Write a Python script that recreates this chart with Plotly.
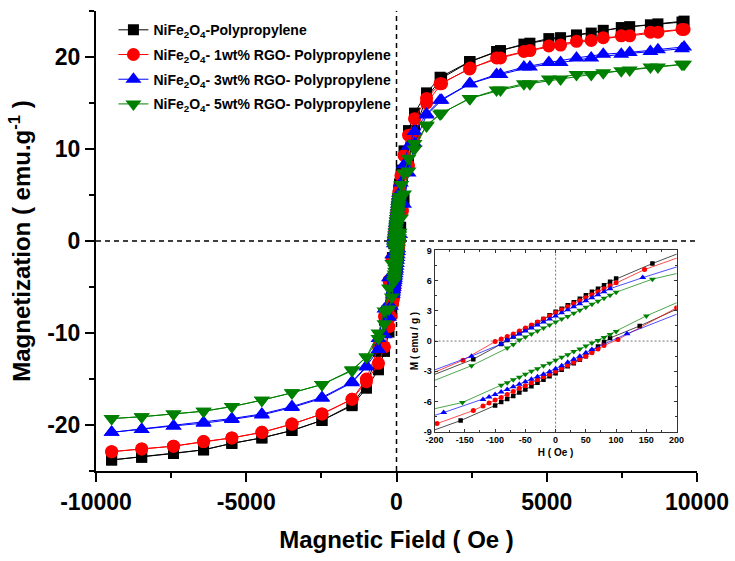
import plotly.graph_objects as go

# ---------------- data ----------------
names = [
    "NiFe<sub>2</sub>O<sub>4</sub>-Polypropylene",
    "NiFe<sub>2</sub>O<sub>4</sub>- 1wt% RGO- Polypropylene",
    "NiFe<sub>2</sub>O<sub>4</sub>- 3wt% RGO- Polypropylene",
    "NiFe<sub>2</sub>O<sub>4</sub>- 5wt% RGO- Polypropylene",
]
colors = ["#000000", "#ff0000", "#0000ff", "#008000"]
symbols = ["square", "circle", "triangle-up", "triangle-down"]

# black : NiFe2O4-Polypropylene
black_H_down = [9570, 8700, 7760, 6880, 5990, 5070, 4240, 3330, 2430, 1450, 1000, 600, 400, 250, 160,
                100, 90, 80, 70, 60, 50, 40, 30, 20, 10, 0, -10, -20, -30, -40, -50, -60, -70, -80, -90,
                -136, -250, -400, -600, -1000, -1480, -2480, -3480, -4480, -5480, -6420, -7420, -8480, -9480]
black_M_down = [23.9, 23.6, 23.3, 22.9, 22.4, 22.0, 21.4, 20.6, 19.5, 17.8, 16.1, 13.9, 12.0, 9.8, 7.7,
                6.2, 5.9, 5.55, 5.2, 4.9, 4.55, 4.2, 3.85, 3.55, 3.2, 2.9, 2.55, 2.2, 1.85, 1.5, 1.15, 0.8, 0.45, 0.1, -0.3,
                -1.8, -4.5, -8.6, -12.0, -15.6, -17.8, -19.5, -20.6, -21.4, -22.0, -22.7, -23.1, -23.5, -23.8]
black_H_up = [-9480, -8480, -7420, -6420, -5480, -4480, -3480, -2480, -1480, -1000, -600, -400, -250, -157,
              -100, -90, -80, -70, -60, -50, -40, -30, -20, -10, 0, 10, 20, 30, 40, 50, 60, 70, 80, 90,
              139, 250, 400, 600, 1000, 1500, 2450, 3460, 4440, 5460, 6480, 7480, 8450, 9500]
black_M_up = [-23.8, -23.5, -23.1, -22.7, -22.0, -21.4, -20.6, -19.5, -17.9, -16.0, -14.0, -12.0, -9.9, -7.9,
              -6.4, -6.05, -5.75, -5.45, -5.1, -4.8, -4.5, -4.15, -3.85, -3.5, -3.2, -2.85, -2.5, -2.2, -1.85, -1.5, -1.0, -0.55, -0.1, 0.3,
              1.5, 4.5, 8.6, 12.0, 15.6, 17.7, 19.5, 20.7, 21.5, 22.1, 22.6, 23.2, 23.5, 23.8]

# red : 1 wt% RGO
red_H_down = [9570, 8700, 7760, 6880, 5990, 5070, 4240, 3330, 2430, 1450, 1000, 600, 400, 250, 147,
              100, 90, 80, 70, 60, 50, 40, 30, 20, 10, 0, -10, -20, -30, -40, -50, -60, -70, -80, -90, -100,
              -153, -250, -400, -600, -1000, -1480, -2480, -3480, -4480, -5480, -6420, -7420, -8480, -9480]
red_M_down = [23.0, 22.7, 22.3, 22.1, 21.7, 21.2, 20.6, 19.9, 18.7, 17.1, 15.5, 13.3, 11.5, 9.3, 7.1,
              5.8, 5.5, 5.2, 4.9, 4.6, 4.3, 4.0, 3.7, 3.4, 3.1, 2.8, 2.5, 2.2, 1.9, 1.6, 1.3, 1.0, 0.7, 0.45, 0.2, -0.05,
              -1.9, -4.3, -8.2, -11.5, -15.0, -17.2, -18.8, -19.9, -20.8, -21.4, -21.8, -22.3, -22.6, -22.9]
red_H_up = [-9480, -8480, -7420, -6420, -5480, -4480, -3480, -2480, -1480, -1000, -600, -400, -250, -196, -136,
            -120, -110, -100, -90, -80, -70, -60, -50, -40, -30, -20, -10, 0, 10, 20, 30, 40, 50, 60, 70, 80,
            103, 200, 400, 600, 1000, 1500, 2450, 3460, 4440, 5460, 6480, 7480, 8450, 9500]
red_M_up = [-22.9, -22.6, -22.3, -21.8, -21.4, -20.8, -19.9, -18.8, -17.2, -15.3, -13.3, -11.5, -9.3, -8.2, -6.9,
            -6.45, -6.15, -5.85, -5.6, -5.3, -5.0, -4.7, -4.45, -4.15, -3.85, -3.55, -3.3, -3.0, -2.7, -2.4, -2.1, -1.8, -1.5, -1.15, -0.8, -0.45,
            0.16, 3.3, 8.2, 11.5, 15.0, 17.1, 18.8, 19.9, 20.7, 21.3, 21.8, 22.3, 22.7, 23.0]

# blue : 3 wt% RGO
blue_H_down = [9570, 8700, 7760, 6880, 5990, 5070, 4240, 3330, 2430, 1450, 1000, 600, 400, 250, 144,
               90, 80, 70, 60, 50, 40, 30, 20, 10, 0, -10, -20, -30, -40, -50, -60, -70, -80, -90,
               -139, -250, -400, -600, -1000, -1480, -2480, -3480, -4480, -5480, -6420, -7420, -8480, -9480]
blue_M_down = [21.1, 20.8, 20.5, 20.3, 19.9, 19.4, 18.9, 18.1, 17.1, 15.3, 13.8, 11.9, 10.3, 8.3, 6.3,
               5.2, 4.9, 4.6, 4.3, 4.0, 3.7, 3.4, 3.1, 2.8, 2.5, 2.2, 1.9, 1.6, 1.3, 1.0, 0.7, 0.4, 0.1, -0.3,
               -1.5, -4.0, -7.4, -10.6, -13.7, -15.4, -17.1, -18.1, -18.9, -19.4, -19.8, -20.1, -20.5, -20.8]
blue_H_up = [-9480, -8480, -7420, -6420, -5480, -4480, -3480, -2480, -1480, -1000, -600, -400, -250, -185,
             -120, -110, -100, -90, -80, -70, -60, -50, -40, -30, -20, -10, 0, 10, 20, 30, 40, 50, 60,
             118, 250, 400, 600, 1000, 1500, 2450, 3460, 4440, 5460, 6480, 7480, 8450, 9500]
blue_M_up = [-20.8, -20.5, -20.1, -19.7, -19.3, -18.8, -18.0, -17.0, -15.3, -13.6, -11.8, -10.2, -8.3, -7.1,
             -5.8, -5.55, -5.3, -5.05, -4.8, -4.55, -4.3, -4.05, -3.8, -3.55, -3.3, -3.05, -2.75, -2.45, -2.1, -1.8, -1.5, -1.15, -0.85,
             0.72, 4.0, 7.4, 10.6, 13.7, 15.3, 17.1, 18.1, 18.9, 19.4, 19.9, 20.3, 20.6, 20.9]

# green : 5 wt% RGO
green_H_down = [9570, 8700, 7760, 6880, 5990, 5070, 4240, 3330, 2430, 1450, 1000, 600, 400, 250, 160,
                100, 90, 80, 70, 60, 50, 40, 30, 20, 10, 0, -10, -20, -30, -40, -50, -60, -70, -80,
                -139, -250, -400, -600, -1000, -1480, -2480, -3480, -4480, -5480, -6420, -7420, -8480, -9480]
green_M_down = [19.2, 18.9, 18.6, 18.3, 18.1, 17.6, 17.1, 16.4, 15.5, 13.8, 12.5, 10.6, 9.0, 7.4, 6.15,
                4.85, 4.55, 4.25, 3.95, 3.65, 3.35, 3.05, 2.75, 2.45, 2.2, 1.9, 1.6, 1.3, 1.0, 0.7, 0.4, 0.1, -0.35, -0.7,
                -2.45, -5.1, -7.6, -10.0, -12.6, -14.0, -15.6, -16.5, -17.3, -18.0, -18.5, -18.8, -19.1, -19.3]
green_H_up = [-9480, -8480, -7420, -6420, -5480, -4480, -3480, -2480, -1480, -1000, -600, -400, -250, -154,
              -90, -80, -70, -60, -50, -40, -30, -20, -10, 0, 10, 20, 30, 40, 50, 60, 70, 80, 90, 100,
              150, 250, 400, 600, 1000, 1500, 2450, 3460, 4440, 5460, 6480, 7480, 8450, 9500]
green_M_up = [-19.3, -19.1, -18.8, -18.5, -18.0, -17.3, -16.5, -15.6, -14.1, -12.6, -10.6, -9.0, -7.4, -6.1,
              -4.4, -4.15, -3.85, -3.6, -3.3, -3.0, -2.75, -2.45, -2.2, -1.9, -1.6, -1.35, -1.05, -0.8, -0.5, -0.2, 0.05, 0.35, 0.65, 0.95,
              2.5, 5.1, 7.6, 10.0, 12.6, 13.9, 15.5, 16.4, 17.1, 17.6, 18.1, 18.5, 18.9, 19.2]

series = [
    (black_H_down, black_M_down, black_H_up, black_M_up),
    (red_H_down, red_M_down, red_H_up, red_M_up),
    (blue_H_down, blue_M_down, blue_H_up, blue_M_up),
    (green_H_down, green_M_down, green_H_up, green_M_up),
]

main_x_ticks = [-10000, -5000, 0, 5000, 10000]
main_y_ticks = [-20, -10, 0, 10, 20]
inset_x_ticks = [-200, -150, -100, -50, 0, 50, 100, 150, 200]
inset_y_ticks = [-9, -6, -3, 0, 3, 6, 9]

# ---------------- figure ----------------
FONT = "Liberation Sans, Arial, sans-serif"
main_marker_sizes = [11, 13, 14, 14]
inset_marker_sizes = [4.5, 5, 6, 6]

fig = go.Figure()

for i, (hd, md, hu, mu) in enumerate(series):
    assert len(hd) == len(md) and len(hu) == len(mu)
    fig.add_trace(go.Scatter(
        x=hd + hu, y=md + mu, mode="lines+markers", name=names[i],
        legendgroup="g%d" % i,
        line=dict(color=colors[i], width=1),
        marker=dict(symbol=symbols[i], size=main_marker_sizes[i], color=colors[i],
                    line=dict(width=0)),
        xaxis="x", yaxis="y",
    ))

for i, (hd, md, hu, mu) in enumerate(series):
    fig.add_trace(go.Scatter(
        x=hd + [None] + hu, y=md + [None] + mu, mode="lines+markers", showlegend=False,
        line=dict(color=colors[i], width=0.7),
        marker=dict(symbol=symbols[i], size=inset_marker_sizes[i], color=colors[i],
                    line=dict(width=0)),
        xaxis="x2", yaxis="y2", cliponaxis=True,
    ))

tickfont_main = dict(family=FONT, size=23, color="black", weight="bold")
tickfont_inset = dict(family=FONT, size=9, color="black", weight="bold")

# inset domain
ix0, ix1 = 0.5634, 0.9661
iy0, iy1 = 0.0855, 0.4795

fig.update_layout(
    width=735, height=561,
    margin=dict(l=96, r=37, t=6, b=90),
    paper_bgcolor="white", plot_bgcolor="white",
    showlegend=True,
    legend=dict(
        x=0.029, y=0.993, xanchor="left", yanchor="top",
        font=dict(family=FONT, size=14, color="black", weight="bold"),
        bgcolor="rgba(0,0,0,0)", borderwidth=0,
        tracegroupgap=3.5, itemsizing="trace",
    ),
    xaxis=dict(
        domain=[0, 1], anchor="y", range=[-10000, 10000],
        tickvals=main_x_ticks, ticktext=[str(v) for v in main_x_ticks],
        ticks="outside", ticklen=9, tickwidth=2, tickcolor="black",
        minor=dict(dtick=2500, ticks="outside", ticklen=5, tickwidth=2, tickcolor="black", tick0=0),
        showline=True, linewidth=2, linecolor="black", mirror=False,
        showgrid=False, zeroline=False, tickfont=tickfont_main,
        title=dict(text="Magnetic Field ( Oe )", font=dict(family=FONT, size=24, color="black", weight="bold"),
                   standoff=18),
    ),
    yaxis=dict(
        domain=[0, 1], anchor="x", range=[-25, 25],
        tickvals=main_y_ticks, ticktext=[str(v) for v in main_y_ticks],
        ticks="outside", ticklen=9, tickwidth=2, tickcolor="black",
        minor=dict(dtick=5, ticks="outside", ticklen=5, tickwidth=2, tickcolor="black", tick0=0),
        showline=True, linewidth=2, linecolor="black", mirror=False,
        showgrid=False, zeroline=False, tickfont=tickfont_main,
        title=dict(text="Magnetization ( emu.g<sup>-1</sup> )",
                   font=dict(family=FONT, size=24, color="black", weight="bold"), standoff=10),
    ),
    xaxis3=dict(
        overlaying="x", anchor="y", side="top", range=[-10000, 10000],
        tickvals=main_x_ticks, showticklabels=False,
        ticks="inside", ticklen=9, tickwidth=2, tickcolor="black",
        minor=dict(dtick=2500, ticks="inside", ticklen=5, tickwidth=2, tickcolor="black", tick0=0),
        showline=True, linewidth=2, linecolor="black", showgrid=False, zeroline=False,
    ),
    yaxis3=dict(
        overlaying="y", anchor="x", side="right", range=[-25, 25],
        tickvals=main_y_ticks, showticklabels=False,
        ticks="inside", ticklen=9, tickwidth=2, tickcolor="black",
        minor=dict(dtick=5, ticks="inside", ticklen=5, tickwidth=2, tickcolor="black", tick0=0),
        showline=True, linewidth=2, linecolor="black", showgrid=False, zeroline=False,
    ),
    xaxis2=dict(
        domain=[ix0, ix1], anchor="y2", range=[-200, 200],
        tickvals=inset_x_ticks, ticktext=[str(v) for v in inset_x_ticks],
        ticks="inside", ticklen=3, tickwidth=1, tickcolor="#333",
        minor=dict(dtick=25, ticks="inside", ticklen=2, tickwidth=1, tickcolor="#333", tick0=0),
        showline=True, linewidth=1, linecolor="#333", mirror="ticks",
        showgrid=False, zeroline=False, tickfont=tickfont_inset,
        title=dict(text="H ( Oe )", font=dict(family=FONT, size=10, color="black", weight="bold"), standoff=4),
    ),
    yaxis2=dict(
        domain=[iy0, iy1], anchor="x2", range=[-9, 9],
        tickvals=inset_y_ticks, ticktext=[str(v) for v in inset_y_ticks],
        ticks="inside", ticklen=3, tickwidth=1, tickcolor="#333",
        minor=dict(dtick=1.5, ticks="inside", ticklen=2, tickwidth=1, tickcolor="#333", tick0=0),
        showline=True, linewidth=1, linecolor="#333", mirror="ticks",
        showgrid=False, zeroline=False, tickfont=tickfont_inset,
        title=dict(text="M ( emu / g )", font=dict(family=FONT, size=10, color="black", weight="bold"), standoff=3),
    ),
)

# reference lines (main: dashed; inset: dotted)
fig.add_shape(type="line", xref="x", yref="y", x0=0, x1=0, y0=-25, y1=25,
              line=dict(color="black", width=1.5, dash="5px,4px"), layer="below")
fig.add_shape(type="line", xref="x", yref="y", x0=-10000, x1=10000, y0=0, y1=0,
              line=dict(color="black", width=1.5, dash="5px,4px"), layer="below")
fig.add_shape(type="line", xref="x2", yref="y2", x0=0, x1=0, y0=-9, y1=9,
              line=dict(color="#555", width=0.8, dash="2px,2px"), layer="below")
fig.add_shape(type="line", xref="x2", yref="y2", x0=-200, x1=200, y0=0, y1=0,
              line=dict(color="#555", width=0.8, dash="2px,2px"), layer="below")

fig.write_html("out.html", config={"displayModeBar": False},
               post_script="document.body.style.margin='0';document.body.style.padding='0';")
